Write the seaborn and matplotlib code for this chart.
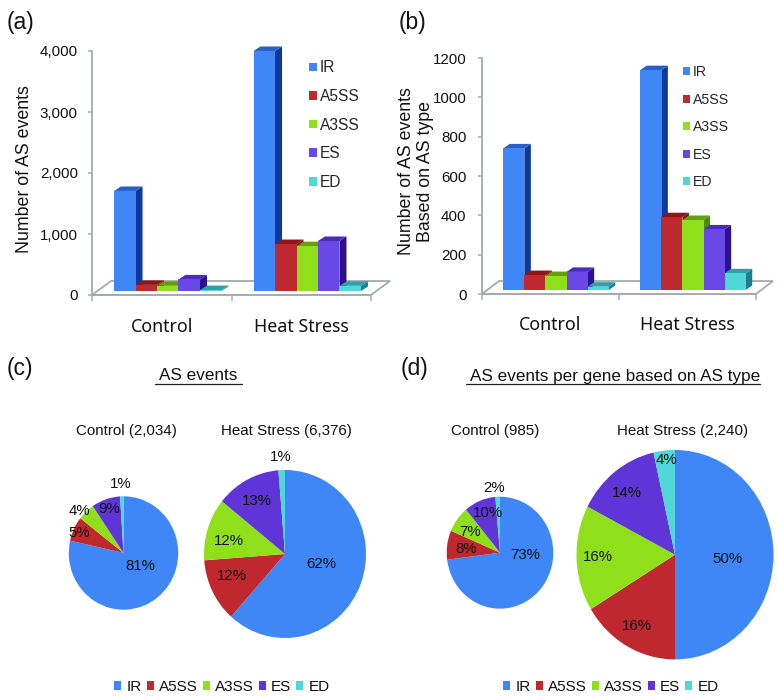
import numpy as np
import pandas as pd
import matplotlib
matplotlib.use("Agg")
import matplotlib.pyplot as plt
import seaborn as sns
from matplotlib.lines import Line2D
from matplotlib.patches import Polygon
from matplotlib.ticker import StrMethodFormatter
from matplotlib.transforms import Affine2D, IdentityTransform

conditions = ["Control", "Heat Stress"]
as_types = ["IR", "A5SS", "A3SS", "ES", "ED"]

events_control = [1640, 100, 85, 190, 15]
events_heat = [3935, 770, 735, 820, 85]
per_gene_control = [720, 76, 71, 92, 17]
per_gene_heat = [1118, 370, 356, 308, 85]

# pie slices, as drawn in the picture (the printed labels do not always agree)
slices_c_control = [78.5, 7.0, 5.0, 8.5, 1.0]
slices_c_heat = [61.6, 12.2, 12.0, 12.9, 1.3]
slices_d_control = [73.0, 8.4, 7.6, 9.6, 1.4]
slices_d_heat = [50.0, 16.3, 16.3, 13.9, 3.5]

labels_c_control = ["81%", "5%", "4%", "9%", "1%"]
labels_c_heat = ["62%", "12%", "12%", "13%", "1%"]
labels_d_control = ["73%", "8%", "7%", "10%", "2%"]
labels_d_heat = ["50%", "16%", "16%", "14%", "4%"]

front_colors = ["#3f86f7", "#c0282f", "#8fe01a", "#6a48e8", "#50d8d8"]
top_colors = ["#2a5fc8", "#8e1518", "#62a010", "#4a2cb8", "#2f9fa8"]
side_colors = ["#0b3a9c", "#7c1012", "#4f8a08", "#2c1090", "#1c7f8e"]
pie_colors = ["#3f86f7", "#c0282f", "#8fe01a", "#5f35d8", "#50d8d8"]
grey = "#a3adad"

W, H = 778, 697
sns.set_theme(style="white")
plt.rcParams["font.family"] = ["Liberation Sans", "DejaVu Sans"]

fig = plt.figure(figsize=(W / 100, H / 100), dpi=100, facecolor="white")


def px_axes(left, top, right, bottom):
    return fig.add_axes([left / W, 1 - bottom / H, (right - left) / W, (bottom - top) / H])


def txt(x, y, s, size=10.8, **kw):
    kw.setdefault("ha", "center")
    kw.setdefault("va", "center")
    fig.text(x / W, 1 - y / H, s, fontsize=size, color="#111111", **kw)


def bar_panel(box, control, heat, ymax, step, fmt, shift, depth, floor, leg_xy, leg_space, leg_size, pad, xpad):
    ax = px_axes(*box)
    df = pd.DataFrame({
        "condition": np.repeat(conditions, len(as_types)),
        "type": as_types * 2,
        "count": control + heat,
    })
    sns.barplot(data=df, x="condition", y="count", hue="type", palette=front_colors,
                saturation=1, width=0.77, gap=0, ax=ax, linewidth=0)
    ax.set_xlim(-0.5, 1.5)
    ax.set_ylim(0, ymax)
    ax.set_xlabel("")
    ax.set_ylabel("")

    sns.despine(ax=ax)
    ax.patch.set_alpha(0)
    for side in ["left", "bottom"]:
        ax.spines[side].set_color(grey)
        ax.spines[side].set_linewidth(1.3)
    ax.set_yticks(np.arange(0, ymax + 1, step))
    ax.yaxis.set_major_formatter(StrMethodFormatter(fmt))
    ax.tick_params(axis="y", left=True, length=3.2, width=1.1, color=grey, pad=pad,
                   labelsize=10.9, labelcolor="#111111")
    ax.set_xticks([-0.5, 0.5, 1.5], minor=True)
    ax.tick_params(axis="x", which="minor", bottom=True, length=4.2, width=1.1, color=grey)
    ax.tick_params(axis="x", which="major", bottom=False, pad=xpad, labelsize=12.8, labelcolor="#111111")
    for lab in ax.get_xticklabels():
        lab.set_family("Noto Sans")

    # floor of the fake 3d box, in pixels off the axes corners
    corners = ax.transAxes.transform([(0, 0), (1, 0)])
    pts = [corners[0], corners[1], corners[1] + floor, corners[0] + floor]
    ax.add_patch(Polygon(pts, closed=True, facecolor="white", edgecolor=grey, linewidth=1.3,
                         transform=IdentityTransform(), clip_on=False, zorder=1))

    # front faces come from seaborn, top and side faces are built on them
    moved = ax.transData + Affine2D().translate(*shift)
    z = 3
    for g in range(len(conditions)):
        for h, cont in enumerate(ax.containers):
            bar = cont[g]
            x0, w, v = bar.get_x(), bar.get_width(), bar.get_height()
            (xl, yb), (xr, yt) = moved.transform([(x0, 0), (x0 + w, v)])
            top = [(xl, yt), (xr, yt), (xr + depth[0], yt + depth[1]), (xl + depth[0], yt + depth[1])]
            side = [(xr, yb), (xr, yt), (xr + depth[0], yt + depth[1]), (xr + depth[0], yb + depth[1])]
            ax.add_patch(Polygon(side, facecolor=side_colors[h], edgecolor="none",
                                 transform=IdentityTransform(), clip_on=False, zorder=z))
            ax.add_patch(Polygon(top, facecolor=top_colors[h], edgecolor="none",
                                 transform=IdentityTransform(), clip_on=False, zorder=z))
            bar.set_transform(moved)
            bar.set_clip_on(False)
            bar.set_zorder(z + 0.5)
            z += 1

    sns.move_legend(ax, loc="upper left",
                    bbox_to_anchor=(leg_xy[0] / W, 1 - leg_xy[1] / H), bbox_transform=fig.transFigure,
                    title=None, frameon=False, fontsize=leg_size, borderpad=0, borderaxespad=0,
                    labelspacing=leg_space, handlelength=0.5, handleheight=0.5, handletextpad=0.2)
    ax.get_legend().set_zorder(50)
    return ax


def pie_panel(cx, cy, hw, hh, values, labels, label_xy):
    ax = px_axes(cx - hw, cy - hh, cx + hw, cy + hh)
    wedges, _ = ax.pie(values, colors=pie_colors, startangle=90, counterclock=False, radius=1,
                       wedgeprops={"linewidth": 0})
    ax.set_aspect("auto")
    ax.set_xlim(-1, 1)
    ax.set_ylim(-1, 1)
    for lab, (x, y) in zip(labels, label_xy):
        txt(x, y, lab, zorder=10)
    return wedges


bar_panel((92, 51, 371, 295), events_control, events_heat, 4000, 1000, "{x:,.0f}",
          (6, 4), (7, 4.5), (19, 14), (309, 60.5), 0.87, 11.2, 7, 10.7)
bar_panel((482, 58, 756, 294), per_gene_control, per_gene_heat, 1200, 200, "{x:.0f}",
          (5.5, 4), (6.5, 4.5), (17, 13), (683, 65), 0.96, 10.2, 8, 9.7)

txt(25, 169, "Number of AS events", size=12.8, rotation=90)
txt(416, 171, "Number of AS events\nBased on AS type", size=12.8, rotation=90, linespacing=1.22)

txt(7, 22, "(a)", size=16.5, ha="left")
txt(399, 22, "(b)", size=16.5, ha="left")
txt(7, 368, "(c)", size=16.5, ha="left")
txt(401, 369, "(d)", size=16.5, ha="left")

txt(198, 376, "AS events", size=12.3)
txt(615, 376, "AS events per gene based on AS type", size=12.3)
fig.add_artist(Line2D([155 / W, 242 / W], [1 - 384 / H] * 2, color="#222222", lw=0.9))
fig.add_artist(Line2D([466 / W, 760 / W], [1 - 384 / H] * 2, color="#222222", lw=0.9))

txt(126, 431, "Control (2,034)", size=10.9)
txt(286, 431, "Heat Stress (6,376)", size=10.9)
txt(495, 431, "Control (985)", size=10.9)
txt(683, 431, "Heat Stress (2,240)", size=10.9)

pie_panel(123.5, 553, 54.7, 56.7, slices_c_control, labels_c_control,
          [(140, 566), (79, 533), (79, 511), (109, 509), (121, 484)])
w_c = pie_panel(285, 554, 81, 84, slices_c_heat, labels_c_heat,
                [(321, 564), (232, 576), (229, 541), (257, 501), (281, 457)])
pie_panel(500, 552.7, 53.3, 56, slices_d_control, labels_d_control,
          [(525, 555), (466, 549), (470, 532), (488, 513), (494, 488)])
w_d = pie_panel(675, 554.7, 98.5, 104.7, slices_d_heat, labels_d_heat,
                [(727, 559), (637, 626), (598, 557), (627, 493), (666, 460)])

for wedges, cx in [(w_c, 222), (w_d, 611)]:
    fig.legend(wedges, as_types, ncols=5, loc="center", bbox_to_anchor=(cx / W, 1 - 687 / H),
               frameon=False, fontsize=11, borderpad=0, handlelength=0.45, handleheight=0.45,
               handletextpad=0.35, columnspacing=0.33, labelcolor="#111111")

fig.savefig("out.png", dpi=100)
